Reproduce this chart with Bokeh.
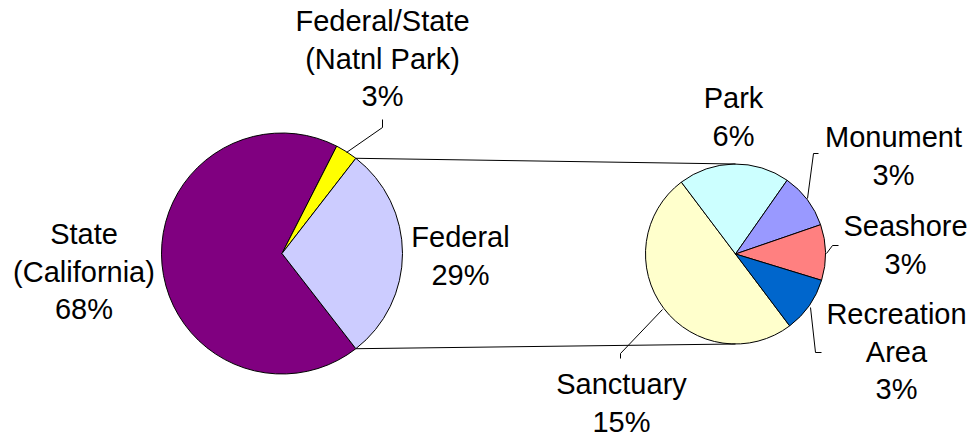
import math
from bokeh.plotting import figure
from bokeh.models import Range1d, ColumnDataSource
from bokeh.core.properties import value
from bokeh.embed import file_html
from bokeh.resources import INLINE

# ---- data ----
main_names = ["State\n(California)", "Federal/State\n(Natnl Park)", "Federal"]
main_values = [68, 3, 29]
main_colors = ["#800080", "#FFFF00", "#CCCCFF"]

sub_names = ["Sanctuary", "Park", "Monument", "Seashore", "Recreation\nArea"]
sub_values = [14.5, 5.8, 2.9, 2.9, 2.9]
sub_colors = ["#FFFFCC", "#CCFFFF", "#9999FF", "#FF8080", "#0066CC"]

# ---- layout (image pixel coords) ----
W, H = 974, 436
def Y(img_y):
    return H - img_y

L_CX, L_CY, L_R = 281.5, 253.0, 120.5
R_CX, R_CY, R_R = 735.0, 253.5, 90.0
SUB_START_DEG = -53.0
TEXT_DY = -9.5  # renderer baseline correction

p = figure(width=W, height=H, output_backend="svg", toolbar_location=None,
           x_range=Range1d(0, W), y_range=Range1d(0, H),
           x_axis_location=None, y_axis_location=None, min_border=0)
p.grid.visible = False
p.outline_line_color = None
p.background_fill_color = "white"
p.border_fill_color = "white"

def pct(v):
    return "%d%%" % math.floor(v + 0.5)

# main pie: slices drawn clockwise starting so that Federal is centred on 0 deg
fed_total = main_values[2]
total = float(sum(main_values))
start = -fed_total / total * 180.0  # degrees
a = start
ms, me = [], []
for v in main_values:
    span = v / total * 360.0
    end_cw = a - span
    ms.append(math.radians(end_cw))
    me.append(math.radians(a))
    a = end_cw
src_main = ColumnDataSource(dict(s=ms, e=me, c=main_colors))
p.wedge(x=L_CX, y=Y(L_CY), radius=L_R, start_angle="s", end_angle="e",
        fill_color="c", line_color="black", line_width=1, source=src_main)

# secondary pie
sub_total = float(sum(sub_values))
a = SUB_START_DEG
ss, se = [], []
for v in sub_values:
    span = v / sub_total * 360.0
    end_cw = a - span
    ss.append(math.radians(end_cw))
    se.append(math.radians(a))
    a = end_cw
src_sub = ColumnDataSource(dict(s=ss, e=se, c=sub_colors))
p.wedge(x=R_CX, y=Y(R_CY), radius=R_R, start_angle="s", end_angle="e",
        fill_color="c", line_color="black", line_width=1, source=src_sub)

# connector lines from Federal slice edges to top/bottom of secondary pie
fed_half = math.radians(fed_total / total * 180.0)
x_top = L_CX + L_R * math.cos(fed_half)
y_top = L_CY - L_R * math.sin(fed_half)
y_bot = L_CY + L_R * math.sin(fed_half)
p.line([x_top, R_CX], [Y(y_top), Y(R_CY - R_R)], line_color="black", line_width=1)
p.line([x_top, R_CX], [Y(y_bot), Y(R_CY + R_R)], line_color="black", line_width=1)

# leader lines (image coords)
leaders = [
    [(382, 119), (382, 127), (346, 152)],
    [(818, 153), (813, 153), (807, 198)],
    [(838, 245), (832, 245), (826, 253)],
    [(810, 307), (815, 352), (821, 352)],
    [(662, 309), (620, 353), (620, 358)],
]
for pts in leaders:
    p.line([q[0] for q in pts], [Y(q[1]) for q in pts], line_color="black", line_width=1)

# labels: centre x, baseline of first line (image coords)
LINE_H = 37.5
label_pos = {
    "State\n(California)": (83.5, 243),
    "Federal/State\n(Natnl Park)": (382, 30),
    "Federal": (460, 246),
    "Sanctuary": (621, 393),
    "Park": (733, 107),
    "Monument": (893, 146),
    "Seashore": (905, 235),
    "Recreation\nArea": (896, 323),
}
tx, ty, tt = [], [], []
for name, v in list(zip(main_names, main_values)) + list(zip(sub_names, sub_values)):
    lines = name.split("\n") + [pct(v)]
    cx, by = label_pos[name]
    for i, ln in enumerate(lines):
        tx.append(cx)
        ty.append(Y(by + i * LINE_H + TEXT_DY))
        tt.append(ln)
p.text(x=tx, y=ty, text=tt, text_font=value("Liberation Sans"), text_font_size="29px",
       text_align="center", text_baseline="alphabetic", text_color="black")

open("out.html", "w").write(file_html(p, INLINE))
